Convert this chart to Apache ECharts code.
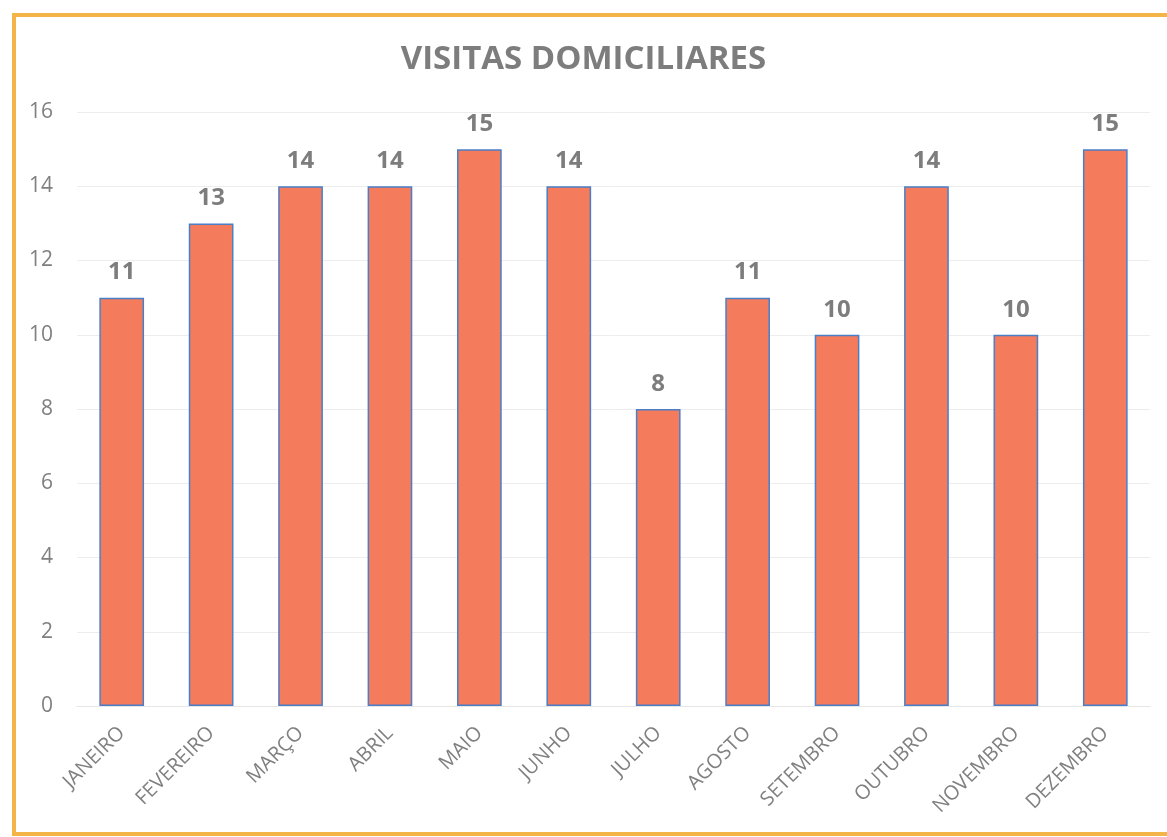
<!DOCTYPE html>
<html>
<head>
<meta charset="utf-8">
<title>Visitas Domiciliares</title>
<script src="https://cdn.jsdelivr.net/npm/echarts@6/dist/echarts.min.js"></script>
<style>
  html, body { margin: 0; padding: 0; background: #fff; }
  #wrap { position: relative; width: 1167px; height: 837px; overflow: hidden; }
  #chart { width: 1167px; height: 837px; }
  #frame {
    position: absolute; left: 12px; top: 13px; width: 1170px; height: 815px;
    border: 4px solid #f5b448; pointer-events: none;
  }
</style>
</head>
<body>
<div id="wrap">
  <div id="chart"></div>
  <div id="frame"></div>
</div>
<script>
const months = ['JANEIRO', 'FEVEREIRO', 'MARÇO', 'ABRIL', 'MAIO', 'JUNHO',
  'JULHO', 'AGOSTO', 'SETEMBRO', 'OUTUBRO', 'NOVEMBRO', 'DEZEMBRO']
const visits = [11, 13, 14, 14, 15, 14, 8, 11, 10, 14, 10, 15]
const yTicks = { min: 0, max: 16, interval: 2 }

const myChart = echarts.init(document.getElementById('chart'))
myChart.setOption({
  animation: false,
  title: {
    text: 'VISITAS DOMICILIARES',
    left: 'center',
    top: 38,
    textStyle: { color: '#7d7d7d', fontSize: 33, fontWeight: 'bold', fontFamily: 'Open Sans' }
  },
  grid: { left: 77, right: 17, top: 112, bottom: 131 },
  xAxis: {
    type: 'category',
    data: months,
    axisLine: { show: true, lineStyle: { color: '#e6e6e6' } },
    axisTick: { show: false },
    axisLabel: {
      rotate: 45, color: '#808080', fontSize: 20, fontFamily: 'Open Sans',
      margin: 24, interval: 0
    }
  },
  yAxis: {
    type: 'value',
    min: yTicks.min,
    max: yTicks.max,
    interval: yTicks.interval,
    axisLine: { show: false },
    axisTick: { show: false },
    splitLine: { lineStyle: { color: '#ededed' } },
    axisLabel: { color: '#808080', fontSize: 21, fontFamily: 'Open Sans', margin: 24 }
  },
  series: [
    {
      type: 'bar',
      data: visits,
      barWidth: '50%',
      itemStyle: { color: '#f47b5c', borderColor: '#4a7fc8', borderWidth: 1.5 },
      label: {
        show: true, position: 'top', distance: 13,
        color: '#7d7d7d', fontSize: 24, fontWeight: 'bold', fontFamily: 'Open Sans'
      }
    }
  ]
})
</script>
</body>
</html>
